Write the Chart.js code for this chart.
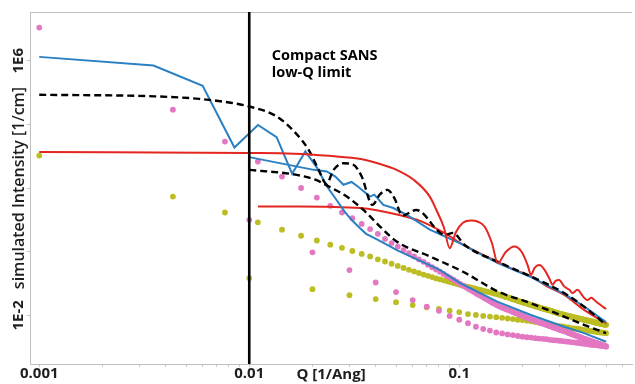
<!DOCTYPE html>
<html><head><meta charset="utf-8">
<script src="https://cdn.jsdelivr.net/npm/chart.js@4/dist/chart.umd.min.js"></script>
<style>html,body{margin:0;padding:0;background:#fff}canvas{display:block}</style>
</head><body>
<canvas id="c" width="635" height="384"></canvas>
<script>
// ---------- DATA (intensities stored as log10 of I [1/cm]) ----------
const qA = [0.001,0.00433,0.00766,0.01099,0.01432,0.01765,0.02098,0.02431,0.02764,0.03097,
0.0343,0.03763,0.04096,0.04429,0.04762,0.05095,0.05428,0.05761,0.06094,0.06427,
0.0676,0.07093,0.07426,0.07759,0.08092,0.08425,0.08758,0.09091,0.09424,0.09757,
0.1009,0.10423,0.10756,0.11089,0.11422,0.11755,0.12088,0.12421,0.12754,0.13087,
0.1342,0.13753,0.14086,0.14419,0.14752,0.15085,0.15418,0.15751,0.16084,0.16417,
0.1675,0.17083,0.17416,0.17749,0.18082,0.18415,0.18748,0.19081,0.19414,0.19747,
0.2008,0.20413,0.20746,0.21079,0.21412,0.21745,0.22078,0.22411,0.22744,0.23077,
0.2341,0.23743,0.24076,0.24409,0.24742,0.25075,0.25408,0.25741,0.26074,0.26407,
0.2674,0.27073,0.27406,0.27739,0.28072,0.28405,0.28738,0.29071,0.29404,0.29737,
0.3007,0.30403,0.30736,0.31069,0.31402,0.31735,0.32068,0.32401,0.32734,0.33067,
0.334,0.33733,0.34066,0.34399,0.34732,0.35065,0.35398,0.35731,0.36064,0.36397,
0.3673,0.37063,0.37396,0.37729,0.38062,0.38395,0.38728,0.39061,0.39394,0.39727,
0.4006,0.40393,0.40726,0.41059,0.41392,0.41725,0.42058,0.42391,0.42724,0.43057,
0.4339,0.43723,0.44056,0.44389,0.44722,0.45055,0.45388,0.45721,0.46054,0.46387,
0.4672,0.47053,0.47386,0.47719,0.48052,0.48385,0.48718,0.49051,0.49384,0.49717,
0.5005];
const pinkA = [7.04,4.46,3.46,2.83,2.36,2.00,1.70,1.44,1.23,1.05,
0.87,0.71,0.56,0.40,0.27,0.16,0.05,-0.05,-0.15,-0.24,
-0.32,-0.41,-0.49,-0.56,-0.63,-0.70,-0.77,-0.83,-0.89,-0.95,
-1.01,-1.07,-1.12,-1.17,-1.22,-1.27,-1.32,-1.36,-1.40,-1.45,
-1.49,-1.53,-1.57,-1.61,-1.64,-1.68,-1.71,-1.74,-1.76,-1.79,
-1.81,-1.83,-1.85,-1.88,-1.90,-1.92,-1.94,-1.96,-1.98,-2.00,
-2.02,-2.04,-2.06,-2.08,-2.10,-2.11,-2.13,-2.15,-2.16,-2.18,
-2.19,-2.20,-2.22,-2.23,-2.25,-2.26,-2.27,-2.29,-2.30,-2.31,
-2.33,-2.34,-2.35,-2.36,-2.38,-2.39,-2.40,-2.41,-2.42,-2.44,
-2.45,-2.46,-2.47,-2.48,-2.49,-2.50,-2.51,-2.52,-2.53,-2.55,
-2.56,-2.57,-2.58,-2.59,-2.60,-2.61,-2.62,-2.63,-2.64,-2.65,
-2.66,-2.67,-2.68,-2.69,-2.70,-2.71,-2.72,-2.73,-2.74,-2.75,
-2.76,-2.76,-2.77,-2.78,-2.79,-2.80,-2.80,-2.81,-2.82,-2.83,
-2.84,-2.84,-2.85,-2.86,-2.87,-2.87,-2.88,-2.89,-2.90,-2.90,
-2.91,-2.92,-2.93,-2.93,-2.94,-2.95,-2.95,-2.96,-2.97,-2.97,
-2.98];
const yellowA = [3.02,1.73,1.23,0.92,0.69,0.50,0.35,0.22,0.12,0.02,
-0.07,-0.15,-0.24,-0.31,-0.38,-0.45,-0.51,-0.57,-0.62,-0.67,
-0.72,-0.76,-0.80,-0.84,-0.87,-0.90,-0.93,-0.96,-0.99,-1.02,
-1.04,-1.07,-1.09,-1.11,-1.13,-1.15,-1.17,-1.19,-1.21,-1.23,
-1.25,-1.27,-1.28,-1.30,-1.32,-1.33,-1.35,-1.37,-1.39,-1.41,
-1.43,-1.44,-1.46,-1.48,-1.50,-1.51,-1.53,-1.55,-1.56,-1.58,
-1.59,-1.61,-1.62,-1.64,-1.65,-1.67,-1.68,-1.69,-1.70,-1.72,
-1.73,-1.74,-1.75,-1.77,-1.78,-1.79,-1.80,-1.81,-1.82,-1.83,
-1.84,-1.85,-1.86,-1.87,-1.89,-1.90,-1.91,-1.92,-1.93,-1.94,
-1.95,-1.96,-1.96,-1.97,-1.98,-1.99,-2.00,-2.00,-2.01,-2.02,
-2.03,-2.03,-2.04,-2.05,-2.05,-2.06,-2.07,-2.07,-2.08,-2.09,
-2.09,-2.10,-2.11,-2.11,-2.12,-2.12,-2.13,-2.14,-2.14,-2.15,
-2.15,-2.16,-2.16,-2.17,-2.17,-2.18,-2.18,-2.19,-2.19,-2.20,
-2.20,-2.21,-2.22,-2.22,-2.23,-2.23,-2.24,-2.24,-2.25,-2.25,
-2.26,-2.26,-2.27,-2.27,-2.28,-2.28,-2.29,-2.29,-2.29,-2.30,
-2.30];
const qB = [0.01,0.02,0.03,0.04,0.05,0.06,0.07,0.08,0.09,0.10,
0.11,0.12,0.13,0.14,0.15,0.16,0.17,0.18,0.19,0.20,
0.21,0.22,0.23,0.24,0.25,0.26,0.27,0.28,0.29,0.30,
0.31,0.32,0.33,0.34,0.35,0.36,0.37,0.38,0.39,0.40,
0.41,0.42,0.43,0.44,0.45,0.46,0.47,0.48,0.49,0.50];
const pinkB = [1.00,-0.02,-0.58,-0.97,-1.27,-1.52,-1.73,-1.86,-2.02,-2.14,
-2.25,-2.36,-2.43,-2.48,-2.54,-2.57,-2.60,-2.62,-2.65,-2.67,
-2.69,-2.70,-2.72,-2.73,-2.74,-2.75,-2.77,-2.78,-2.79,-2.80,
-2.81,-2.82,-2.83,-2.84,-2.85,-2.86,-2.87,-2.88,-2.89,-2.90,
-2.91,-2.92,-2.93,-2.93,-2.94,-2.95,-2.96,-2.96,-2.97,-2.98];
const yellowB = [-0.83,-1.18,-1.37,-1.49,-1.59,-1.68,-1.75,-1.80,-1.85,-1.90,
-1.96,-1.99,-2.02,-2.04,-2.06,-2.08,-2.10,-2.12,-2.14,-2.15,
-2.17,-2.19,-2.21,-2.23,-2.25,-2.27,-2.29,-2.31,-2.33,-2.34,
-2.35,-2.37,-2.38,-2.40,-2.41,-2.42,-2.43,-2.44,-2.46,-2.47,
-2.48,-2.49,-2.50,-2.51,-2.52,-2.53,-2.54,-2.54,-2.55,-2.56];

const blueAQ = [0.001,0.0035,0.006,0.0085,0.011,0.0135,0.016,0.0185,0.021,0.0235,0.026,0.0285,0.031,0.0335,0.036,0.041,0.051,0.0807,0.1004,0.1526,0.2194,0.3158,0.3928,0.5];
const blueAL = [6.12,5.85,5.21,3.27,3.98,3.60,2.45,3.15,2.64,2.04,1.63,1.25,0.97,0.75,0.56,0.37,0.03,-0.57,-0.98,-1.58,-1.99,-2.36,-2.56,-2.83];
const blueBQ = [0.01,0.0203,0.0234,0.0257,0.0281,0.0307,0.0331,0.0376,0.0394,0.0435,0.0485,0.0561,0.0724,0.1004,0.1526,0.2194,0.3158,0.3928,0.5];
const blueBL = [2.97,2.57,2.52,2.36,2.10,2.19,2.03,1.73,1.79,1.47,1.37,1.16,0.69,0.27,-0.36,-0.80,-1.33,-1.72,-2.21];
const redAQ = [0.001,0.01,0.0163,0.0239,0.0345,0.0468,0.0503,0.0606,0.0724,0.0778,0.0846,0.0900,0.0965,0.1041,0.114,0.1227,0.1319,0.1429,0.1526,
0.1665,0.1831,0.1983,0.2116,0.2194,0.2284,0.2404,0.2548,0.2691,0.278,0.2872,0.299,0.3158,0.3346,0.3459,0.3653,0.39,0.4074,0.4256,0.4445,0.4694,0.5];
const redAL = [3.13,3.10,3.08,3.01,2.90,2.65,2.57,2.26,1.73,1.31,0.75,0.11,0.62,0.91,0.98,0.94,0.79,0.28,-0.36,
-0.01,0.16,-0.01,-0.42,-0.73,-0.51,-0.42,-0.57,-0.86,-1.04,-0.92,-0.89,-1.09,-1.20,-1.30,-1.20,-1.42,-1.52,-1.45,-1.55,-1.67,-1.80];
const redBQ = [0.011,0.0172,0.0337,0.0512,0.066,0.0852,0.1061,0.1526,0.1831,0.2194,0.2632,0.3158,0.3928,0.5];
const redBL = [1.42,1.42,1.37,1.16,0.95,0.58,0.19,-0.32,-0.57,-0.78,-1.10,-1.36,-1.83,-2.25];
const dashAQ = [0.001,0.00353,0.00578,0.00831,0.01,0.01349,0.0166,0.01918,0.0214,0.02334,0.0252,0.02811,0.03133,0.03432,0.03857,0.0419,0.04544,0.0493,0.05352,0.06234,0.0855,0.0934,0.1061,0.1526,0.2194,0.3158,0.3928,0.5];
const dashAL = [4.93,4.88,4.80,4.67,4.56,4.25,3.73,3.20,2.57,2.13,2.57,2.78,2.73,2.36,1.47,1.80,1.94,1.66,1.13,1.31,0.53,0.59,0.21,-0.32,-0.78,-1.30,-1.73,-2.30];
const dashBQ = [0.01,0.0166,0.02064,0.02386,0.02914,0.03496,0.04195,0.05028,0.07239,0.1041,0.1526,0.2194,0.3158,0.3928,0.5];
const dashBL = [2.57,2.42,2.26,2.05,1.73,1.31,0.79,0.32,-0.15,-0.63,-1.25,-1.62,-2.04,-2.30,-2.56];

const lowQLimit = 0.01;
const xTickValues = [0.001,0.002,0.003,0.004,0.005,0.006,0.007,0.008,0.009,
  0.01,0.02,0.03,0.04,0.05,0.06,0.07,0.08,0.09,0.1,0.2,0.3,0.4,0.5,0.6];
const xLabelValues = [0.001, 0.01, 0.1];
const xLabelTexts = ['0.001', '0.01', '0.1'];
const yTickValues = [1e6, 1e4, 1e2, 1, 1e-2];
const yTickLabels = ['1E6', '', '', '', '1E-2'];

// sanity check
[[qA,pinkA],[qA,yellowA],[qB,pinkB],[qB,yellowB],[blueAQ,blueAL],[blueBQ,blueBL],[redAQ,redAL],[redBQ,redBL],[dashAQ,dashAL],[dashBQ,dashBL]].forEach((p,i)=>{
  if (p[0].length !== p[1].length) throw new Error('length mismatch in pair '+i+': '+p[0].length+' vs '+p[1].length);
});

const pts = (qs, ls) => qs.map((q, i) => ({x: q, y: Math.pow(10, ls[i])}));

const PINK = '#e377c2', OLIVE = '#bcbd22', BLUE = '#2a80c2', RED = '#e3261f', BLACK = '#000';
const FAM = '"Open Sans", "Liberation Sans", Arial, sans-serif';
const TXT = '#1e1e1e';

const dots = (data, color, order) => ({data, showLine:false, pointRadius:2.9, pointHoverRadius:2.9,
  pointBackgroundColor:color, pointBorderWidth:0, order});
const smooth = (data, color, order, dash) => ({data, showLine:true, pointRadius:0, borderColor:color,
  borderWidth: dash ? 2.4 : 2, borderDash: dash || [], cubicInterpolationMode:'monotone', order, fill:false});
const straight = (data, color, order) => ({data, showLine:true, pointRadius:0, borderColor:color,
  borderWidth: 2, tension:0, order, fill:false});

const overlay = {
  id:'overlay',
  beforeDatasetsDraw(chart){
    const {ctx, chartArea:a} = chart;
    ctx.save();
    ctx.strokeStyle = '#bfbfbf'; ctx.lineWidth = 1;
    ctx.beginPath(); ctx.moveTo(a.left, a.top + 0.5); ctx.lineTo(a.right, a.top + 0.5); ctx.stroke();
    ctx.restore();
  },
  afterDatasetsDraw(chart){
    const {ctx, chartArea:a, scales:{x, y}} = chart;
    ctx.save();
    const px = x.getPixelForValue(lowQLimit);
    ctx.strokeStyle = '#000'; ctx.lineWidth = 2.6;
    ctx.beginPath(); ctx.moveTo(px, a.top); ctx.lineTo(px, a.bottom); ctx.stroke();
    ctx.fillStyle = '#000';
    ctx.font = 'bold 14.5px ' + FAM;
    ctx.textBaseline = 'alphabetic'; ctx.textAlign = 'left';
    const tx = x.getPixelForValue(0.0128), ty = y.getPixelForValue(Math.pow(10, 6.03));
    ctx.fillText('Compact SANS', tx, ty);
    ctx.fillText('low-Q limit', tx, ty + 17.5);
    ctx.restore();
  }
};

new Chart(document.getElementById('c'), {
  type: 'scatter',
  data: { datasets: [
    smooth(pts(redAQ, redAL), RED, 1),
    smooth(pts(dashAQ, dashAL), BLACK, 2, [7,4]),
    smooth(pts(dashBQ, dashBL), BLACK, 3, [7,4]),
    straight(pts(blueAQ, blueAL), BLUE, 4),
    straight(pts(blueBQ, blueBL), BLUE, 5),
    smooth(pts(redBQ, redBL), RED, 6),
    dots(pts(qA, pinkA), PINK, 10),
    dots(pts(qB, pinkB), PINK, 11),
    dots(pts(qA, yellowA), OLIVE, 12),
    dots(pts(qB, yellowB), OLIVE, 13)
  ]},
  options: {
    responsive:false, animation:false, devicePixelRatio:1,
    layout:{padding:{top:12, right:0, left:0, bottom:0}},
    plugins:{legend:{display:false}, tooltip:{enabled:false}},
    scales:{
      x:{
        type:'logarithmic', min:Math.pow(10,-3.044), max:Math.pow(10,-0.177),
        afterBuildTicks:(s)=>{ s.ticks = xTickValues.map(v=>({value:v})); },
        afterFit:(s)=>{ s.height = 20; },
        ticks:{autoSkip:false, maxRotation:0, padding:-2, color:TXT,
          font:{family:FAM, size:15, weight:'bold'},
          callback:(v)=>{ const k = xLabelValues.indexOf(v); return k >= 0 ? xLabelTexts[k] : ''; }},
        grid:{display:true, drawOnChartArea:false, drawTicks:true, tickLength:3, color:'#c8c8c8'},
        border:{display:true, color:'#bfbfbf', width:1},
        title:{display:true, text:'Q [1/Ang]', color:TXT, font:{family:FAM, size:15, weight:'bold'}, padding:{top:0, bottom:0}}
      },
      y:{
        type:'logarithmic', min:Math.pow(10,-3.53), max:Math.pow(10,7.53),
        afterBuildTicks:(s)=>{ s.ticks = yTickValues.map(v=>({value:v})); },
        afterFit:(s)=>{ s.width = 30; },
        ticks:{autoSkip:false, minRotation:90, maxRotation:90, crossAlign:'center', padding:-7, color:TXT,
          font:{family:FAM, size:15, weight:'bold'}, callback:(v,i)=>yTickLabels[i]},
        grid:{display:true, drawOnChartArea:false, drawTicks:true, tickLength:3, color:'#c8c8c8'},
        border:{display:true, color:'#bfbfbf', width:1},
        title:{display:true, text:'simulated Intensity [1/cm]', color:TXT, font:{family:FAM, size:16, weight:'600'}, padding:{top:10, bottom:0}}
      }
    }
  },
  plugins:[overlay]
});
</script>
</body></html>
